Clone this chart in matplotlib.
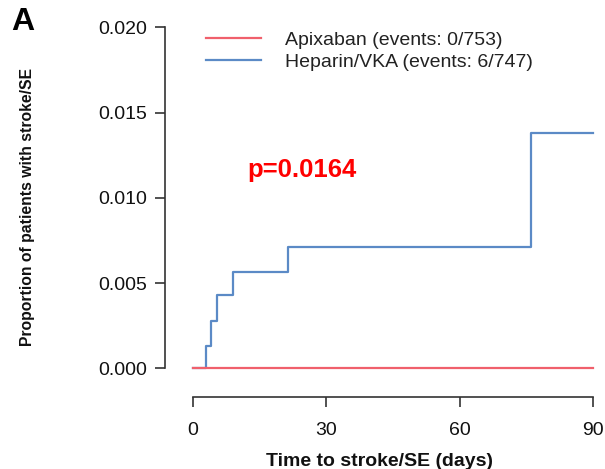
import matplotlib
matplotlib.use("Agg")
import matplotlib.pyplot as plt

plt.rcParams['font.family'] = ['Liberation Sans', 'DejaVu Sans']

# Data
apix_t = [0, 90]
apix_p = [0.0, 0.0]
hep_t = [0, 3, 4, 5.3, 9, 21.3, 76, 90]
hep_p = [0.0, 0.00134, 0.00277, 0.00428, 0.00565, 0.0071, 0.01378, 0.01378]
xticks = [0, 30, 60, 90]
yticks = [0.000, 0.005, 0.010, 0.015, 0.020]
labels = ["Apixaban (events: 0/753)", "Heparin/VKA (events: 6/747)"]
red = "#F0606C"
blue = "#5B8AC6"

fig = plt.figure(figsize=(6.05, 4.69), dpi=100)
ax = fig.add_axes([165/605, 1-397/469, 435/605, 377/469])

ax.step(apix_t, apix_p, where='post', color=red, lw=1.6, label=labels[0], zorder=3)
ax.step(hep_t, hep_p, where='post', color=blue, lw=1.6, label=labels[1], zorder=2)

ax.set_xlim(-6.3, 91.6)
ax.set_ylim(-0.00168, 0.02043)
ax.set_xticks(xticks)
ax.set_xticklabels([str(v) for v in xticks])
ax.set_yticks(yticks)
ax.set_yticklabels([f"{v:.3f}" for v in yticks])

for s in ['top', 'right']:
    ax.spines[s].set_visible(False)
ax.spines['left'].set_bounds(0, 0.020)
ax.spines['bottom'].set_bounds(0, 90)
for s in ['left', 'bottom']:
    ax.spines[s].set_linewidth(1.2)
    ax.spines[s].set_color('#333333')
ax.tick_params(axis='both', length=7, width=1.2, color='#333333', labelsize=14, labelcolor='#111111')
ax.tick_params(axis='x', pad=11)
ax.tick_params(axis='y', pad=6)

fig.text(380/605, 1-461/469, "Time to stroke/SE (days)", fontsize=14, fontweight='bold',
         ha='center', va='center', color='#111111')
fig.text(28/605, 1-207/469, "Proportion of patients with stroke/SE", rotation=90,
         fontsize=11.3, fontweight='bold', ha='center', va='center', color='#111111')

fig.text(11/605, 1-22/469, "A", fontsize=23, fontweight='bold', ha='left', va='center')

fig.text(247/605, 1-170/469, "p=0.0164", fontsize=18.5, fontweight='bold', color='#FF0000',
         ha='left', va='center')

leg = ax.legend(loc='upper left', bbox_to_anchor=(41/435, 1 - 11/377), frameon=False, fontsize=14,
                handlelength=2.83, handletextpad=1.25, labelspacing=0.22, borderaxespad=0,
                borderpad=0)
for t in leg.get_texts():
    t.set_color('#222222')

fig.savefig("out.png", dpi=100)
